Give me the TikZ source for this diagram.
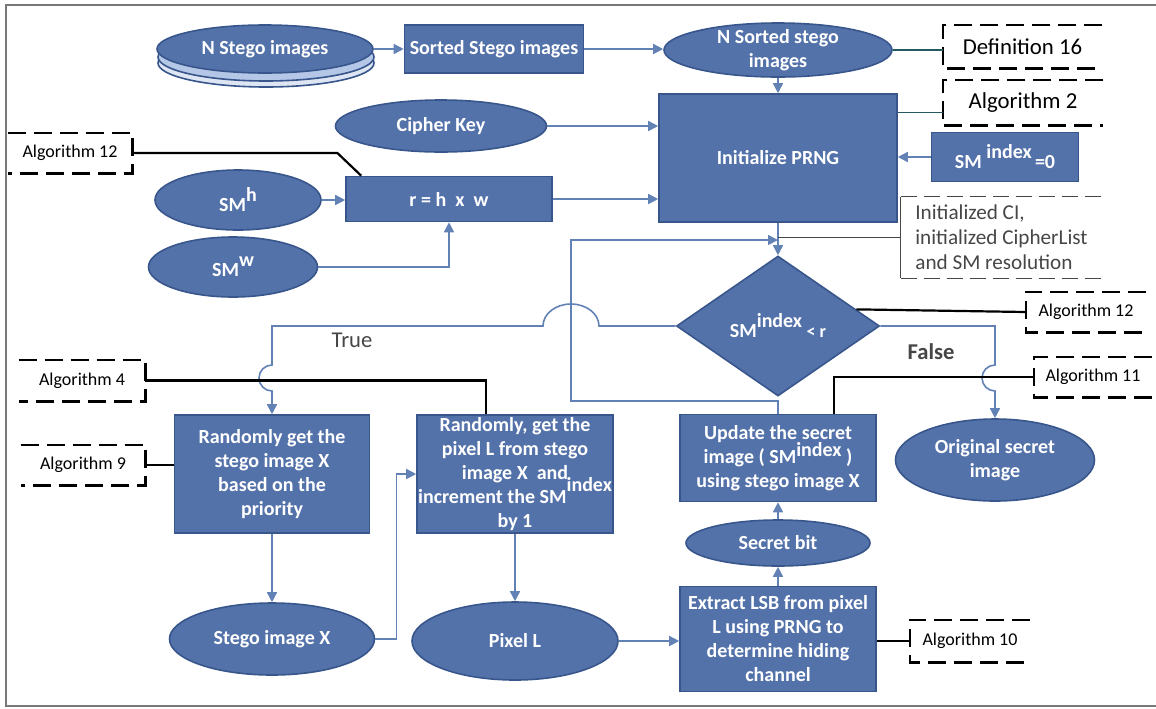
\documentclass[tikz,border=0pt]{standalone}
\usepackage{fontspec}
\setmainfont{Carlito}
\usepackage{tikz}
\usetikzlibrary{shapes.geometric, arrows.meta, calc}
\definecolor{flowFill}{RGB}{84, 114, 170}
\definecolor{flowBorder}{RGB}{56, 86, 140}
\definecolor{flowLine}{RGB}{98, 130, 182}
\definecolor{stackMid}{RGB}{180, 199, 231}
\definecolor{stackLow}{RGB}{222, 230, 244}
\definecolor{noteGray}{RGB}{70, 70, 70}
\definecolor{tealLine}{RGB}{38, 88, 98}
\definecolor{frameGray}{RGB}{120, 120, 120}
\tikzstyle{arrow} = [line width=0.8pt, draw=flowLine, ->, >={Triangle[length=5pt, width=5pt]}]
\tikzstyle{line} = [line width=0.8pt, draw=flowLine]
\tikzstyle{callout} = [line width=1.1pt, draw=black]
\tikzstyle{tealpin} = [line width=0.9pt, draw=tealLine]
\tikzstyle{noteline} = [line width=0.6pt, draw=noteGray]
\tikzstyle{notedash} = [line width=0.8pt, draw=noteGray, dash pattern=on 8pt off 3.5pt]
\tikzstyle{dashbox} = [line width=1.1pt, draw=black, dash pattern=on 9pt off 4pt]
\tikzstyle{outerframe} = [line width=0.7pt, draw=frameGray]
\tikzstyle{basic} = [rectangle, draw=flowBorder, line width=0.8pt, fill=flowFill, text=white, font=\bfseries\fontsize{10}{12}\selectfont, align=center, inner sep=0pt]
\tikzstyle{oval} = [basic, ellipse]
\tikzstyle{tag} = [rectangle, inner sep=0pt, text=black, font=\fontsize{9}{11}\selectfont]
\tikzstyle{bigtag} = [tag, font=\fontsize{11.4}{13}\selectfont]
\tikzstyle{branch} = [inner sep=0pt, text=noteGray, font=\fontsize{11.3}{13}\selectfont]

\begin{document}
\begin{tikzpicture}[x=0.5pt, y=-0.5pt]

\useasboundingbox (0,0) rectangle (1156,708);
\draw [outerframe] (1156,5) -- (6,5) -- (6,706) -- (1156,706);

\node (stack3) [oval, fill=stackLow, minimum width=108pt, minimum height=24pt] at(266,63) {};
\node (stack2) [oval, fill=stackMid, minimum width=108pt, minimum height=24pt] at(266,57) {};
\node (nstego) [oval, minimum width=108pt, minimum height=24pt] at(265,49) {N Stego images};
\node (sorted) [basic, minimum width=89.5pt, minimum height=24pt] at(494,49) {Sorted Stego images};
\node (nsorted) [oval, minimum width=114pt, minimum height=27pt, inner ysep=-2pt] at(778,50) {N Sorted stego\\images};
\node (cipher) [oval, minimum width=105.5pt, minimum height=26pt] at(441,126) {Cipher Key};
\node (prng) [basic, minimum width=119pt, minimum height=64pt] at(778,158) {Initialize PRNG};
\node (smidx) [basic, minimum width=73.5pt, minimum height=24.5pt] at(1005,157) {SM \raisebox{5pt}{index}\,=0};
\node (smh) [oval, minimum width=83pt, minimum height=30pt] at(238,200) {SM\raisebox{5pt}{h}};
\node (smw) [oval, minimum width=84.5pt, minimum height=30pt] at(233,267) {SM\raisebox{5pt}{w}};
\node (rbox) [basic, minimum width=103pt, minimum height=22.5pt] at(449,199) {r = h \ x \ w};

\node (cond) [basic, diamond, minimum width=101.5pt, minimum height=70pt] at(778,326) {SM\raisebox{5pt}{index} {\fontsize{9}{11}\selectfont< r}};

\node (randstego) [basic, minimum width=97.5pt, minimum height=59pt] at(272,474) {Randomly get the\\stego image X\\based on the\\priority};
\node (randpixel) [basic, minimum width=98pt, minimum height=59pt, inner xsep=-4pt] at(515,474) {Randomly, get the\\pixel L from stego\\image X \ and\\increment the SM\smash{\raisebox{6pt}{index}}\\by 1};
\node (update) [basic, minimum width=98pt, minimum height=43.5pt] at(778,458) {Update the secret\\image ( SM\smash{\raisebox{3.5pt}{index}} )\\using stego image X};
\node (original) [oval, minimum width=99.5pt, minimum height=41pt] at(995,460) {Original secret\\image};
\node (secretbit) [oval, minimum width=92pt, minimum height=23pt] at(778,543) {Secret bit};
\node (stegox) [oval, minimum width=102.5pt, minimum height=36pt] at(272,639) {Stego image X};
\node (pixell) [oval, minimum width=103pt, minimum height=39pt] at(515,641) {Pixel L};
\node (extract) [basic, minimum width=98pt, minimum height=52.5pt] at(778,639) {Extract LSB from pixel\\L using PRNG to\\determine hiding\\channel};

\node (def16) [bigtag, minimum width=79.5pt, minimum height=21.5pt] at(1022.5,46.5) {Definition 16};
\node (alg2) [bigtag, minimum width=80pt, minimum height=22.5pt] at(1023,102.5) {Algorithm 2};
\node (initci) [tag, minimum width=100.5pt, minimum height=40.5pt, align=left, text=noteGray, font=\fontsize{10.6}{12.4}\selectfont] at(1001.5,237.5) {Initialized CI,\\initialized CipherList\\and SM resolution};
\node (alg12l) [tag, minimum width=62pt, minimum height=20pt] at(70,153) {Algorithm 12};
\node (alg12r) [tag, minimum width=60pt, minimum height=20pt] at(1086,312) {Algorithm 12};
\node (alg11) [tag, minimum width=59pt, minimum height=20pt] at(1093,377) {Algorithm 11};
\node (alg4) [tag, minimum width=63pt, minimum height=20.5pt] at(82,380.5) {Algorithm 4};
\node (alg9) [tag, minimum width=62pt, minimum height=20pt] at(83,465) {Algorithm 9};
\node (alg10) [tag, minimum width=60pt, minimum height=21pt] at(970,641) {Algorithm 10};

\draw [dashbox] (def16.north east) -- (def16.north west) -- (def16.south west) -- (def16.south east);
\draw [dashbox] (alg2.north east) -- (alg2.north west) -- (alg2.south west) -- (alg2.south east);
\draw [dashbox] (alg12r.north east) -- (alg12r.north west) -- (alg12r.south west) -- (alg12r.south east);
\draw [dashbox] (alg11.north east) -- (alg11.north west) -- (alg11.south west) -- (alg11.south east);
\draw [dashbox] (alg10.north east) -- (alg10.north west) -- (alg10.south west) -- (alg10.south east);
\draw [dashbox] (alg12l.north west) -- (alg12l.north east) -- (alg12l.south east) -- (alg12l.south west);
\draw [dashbox] (alg4.north west) -- (alg4.north east) -- (alg4.south east) -- (alg4.south west);
\draw [dashbox] (alg9.north west) -- (alg9.north east) -- (alg9.south east) -- (alg9.south west);
\draw [notedash] (initci.north west) -- (initci.north east);
\draw [notedash] (initci.south west) -- (initci.south east);
\draw [noteline] (initci.north west) -- (initci.south west);

\draw [arrow] (nstego.east) -- (sorted.west);
\draw [arrow] (sorted.east) -- (sorted.east -| nsorted.west);
\draw [arrow] (nsorted.south) -- (prng.north);
\draw [arrow] (cipher.east) -- (cipher.east -| prng.west);
\draw [arrow] (rbox.east) -- (rbox.east -| prng.west);
\draw [arrow] (smidx.west) -- (smidx.west -| prng.east);
\draw [arrow] (smh.east) -- (smh.east -| rbox.west);
\draw [arrow] (smw.east) -| (rbox.south);
\draw [arrow] (prng.south) -- (cond.north);

\coordinate (merge) at(778,240);
\coordinate (loopx) at(571,240);
\draw [arrow] (update.north) -- ++(0,-13) -| (loopx) -- (merge);
\draw [noteline] (initci.west) -- (initci.west -| merge);

\draw [arrow] (cond.west) -- ($(cond.west -| loopx)+(28,0)$) arc[start angle=0, end angle=-180, x radius=28, y radius=22] -- (cond.west -| randstego.north) -- ++(0,39) arc[start angle=270, end angle=90, radius=13] -- (randstego.north);
\draw [arrow] (cond.east) -- (cond.east -| original.north) -- ++(0,39) arc[start angle=270, end angle=90, radius=13] -- (original.north);

\draw [arrow] (randstego.south) -- (stegox.north);
\draw [arrow] (stegox.east) -- ++(21,0) |- (randpixel.west);
\draw [arrow] (randpixel.south) -- (pixell.north);
\draw [arrow] (pixell.east) -- (pixell.east -| extract.west);
\draw [arrow] (extract.north) -- (secretbit.south);
\draw [arrow] (secretbit.north) -- (update.south);

\draw [callout] (alg12l.east) -- ++(205,0) -- ($(rbox.north west)+(16,0)$);
\draw [tealpin] (nsorted.east) -- (nsorted.east -| def16.west);
\coordinate (alg2pin) at($(alg2.west)+(0,10)$);
\draw [tealpin] (alg2pin) -- (alg2pin -| prng.east);
\draw [callout] (alg12r.west) -- (cond.12);
\draw [callout] (alg11.west) -| ($(update.north east)+(-43,0)$);
\draw [callout] (alg4.east) -| ($(randpixel.north west)+(70,0)$);
\draw [callout] (alg9.east) -- (alg9.east -| randstego.west);
\draw [callout] (alg10.west) -- (alg10.west -| extract.east);

\node (truelbl) [branch] at(352,340) {True};
\node (falselbl) [branch, font=\bfseries\fontsize{11.3}{13}\selectfont] at(931,352) {False};

\end{tikzpicture}
\end{document}
